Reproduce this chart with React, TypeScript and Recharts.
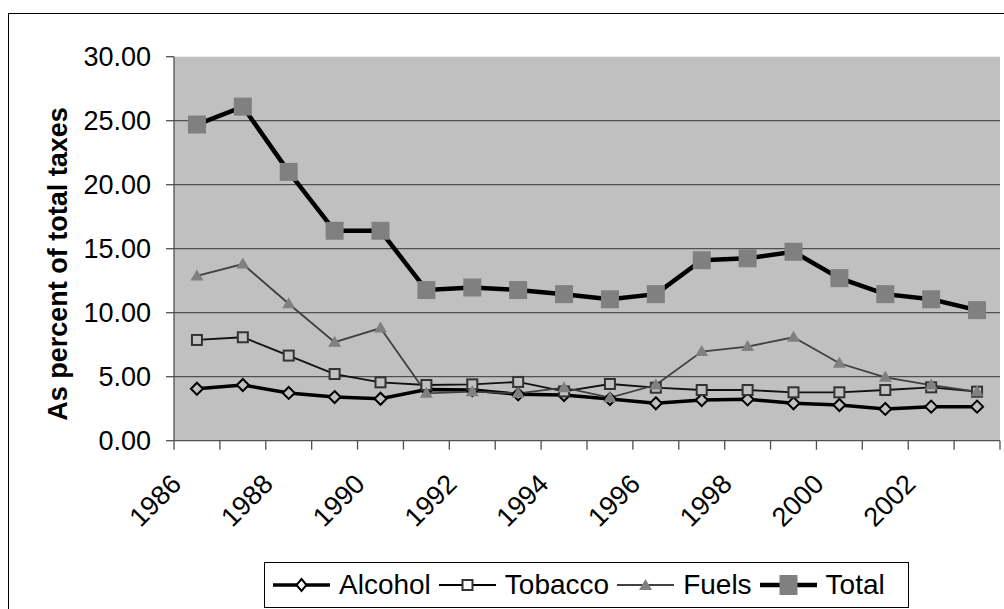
import { LineChart, Line, XAxis, YAxis, CartesianGrid, Legend, Label } from "recharts";

const years = [
  "1986", "1987", "1988", "1989", "1990", "1991", "1992", "1993", "1994",
  "1995", "1996", "1997", "1998", "1999", "2000", "2001", "2002", "2003",
];
const alcohol = [4.06, 4.35, 3.73, 3.41, 3.28, 4.0, 3.96, 3.62, 3.57, 3.26, 2.92, 3.18, 3.23, 2.92, 2.79, 2.48, 2.66, 2.66];
const tobacco = [7.87, 8.08, 6.65, 5.21, 4.56, 4.35, 4.4, 4.59, 3.85, 4.43, 4.14, 3.96, 3.96, 3.78, 3.78, 3.96, 4.17, 3.83];
const fuels = [12.87, 13.8, 10.7, 7.7, 8.8, 3.7, 3.83, 3.7, 4.14, 3.36, 4.35, 6.96, 7.35, 8.08, 6.05, 4.95, 4.35, 3.83];
const total = [24.7, 26.1, 21.0, 16.4, 16.4, 11.77, 11.97, 11.77, 11.45, 11.05, 11.45, 14.1, 14.25, 14.76, 12.7, 11.45, 11.05, 10.2];
const yTicks = [0, 5, 10, 15, 20, 25, 30];

const data = years.map((year, i) => ({
  year,
  alcohol: alcohol[i],
  tobacco: tobacco[i],
  fuels: fuels[i],
  total: total[i],
}));

const FONT = '"Liberation Sans", Arial, Helvetica, sans-serif';
const CHART_W = 995;
const CHART_H = 600;
const MARGIN = { top: 42.7, right: 4, bottom: 0, left: 0 };
const Y_W = 165;
const BAND = (CHART_W - MARGIN.left - MARGIN.right - Y_W) / years.length;
const AXIS = "#505050";
const BG = "#c0c0c0";

const diamondDot = (props: any) => {
  const { cx, cy, index } = props;
  if (cx == null || cy == null) return <g key={`a${index}`} />;
  return (
    <path
      key={`a${index}`}
      d={`M${cx},${cy - 6}L${cx + 6},${cy}L${cx},${cy + 6}L${cx - 6},${cy}Z`}
      fill={BG}
      stroke="#000"
      strokeWidth={2}
    />
  );
};

const openSquareDot = (props: any) => {
  const { cx, cy, index } = props;
  if (cx == null || cy == null) return <g key={`t${index}`} />;
  return <rect key={`t${index}`} x={cx - 5} y={cy - 5} width={10} height={10} fill={BG} stroke="#333" strokeWidth={2} />;
};

const triangleDot = (props: any) => {
  const { cx, cy, index } = props;
  if (cx == null || cy == null) return <g key={`f${index}`} />;
  return <path key={`f${index}`} d={`M${cx},${cy - 6.5}L${cx + 6.5},${cy + 4.5}L${cx - 6.5},${cy + 4.5}Z`} fill="#808080" />;
};

const bigSquareDot = (props: any) => {
  const { cx, cy, index } = props;
  if (cx == null || cy == null) return <g key={`s${index}`} />;
  return <rect key={`s${index}`} x={cx - 9} y={cy - 9} width={18} height={18} fill="#808080" />;
};

const XTick = (props: any) => {
  const { x, y, payload, index } = props;
  const tx = x - 14;
  const ty = y + 45;
  return (
    <g>
      <line x1={x - BAND / 2} x2={x - BAND / 2} y1={y} y2={y + 9} stroke={AXIS} strokeWidth={1.3} />
      {index === years.length - 1 && (
        <line x1={x + BAND / 2} x2={x + BAND / 2} y1={y} y2={y + 9} stroke={AXIS} strokeWidth={1.3} />
      )}
      {index % 2 === 0 && (
        <text x={tx} y={ty} transform={`rotate(-45 ${tx} ${ty})`} textAnchor="end" fontSize={27} fontFamily={FONT} fill="#000">
          {payload.value}
        </text>
      )}
    </g>
  );
};

const YTitle = () => (
  <text
    transform="translate(58,250) rotate(-90)"
    textAnchor="middle"
    fontSize={27}
    fontWeight="bold"
    fontFamily={FONT}
    fill="#000"
  >
    As percent of total taxes
  </text>
);

const legendItems = [
  { label: "Alcohol", kind: "diamond" },
  { label: "Tobacco", kind: "square" },
  { label: "Fuels", kind: "triangle" },
  { label: "Total", kind: "big" },
];

const LegendIcon = ({ kind }: { kind: string }) => {
  const w = 57;
  const c = w / 2;
  const m = 12;
  return (
    <svg width={w} height={24} style={{ display: "block" }}>
      {kind === "diamond" && (
        <>
          <line x1={0} x2={w} y1={m} y2={m} stroke="#000" strokeWidth={3.5} />
          <path d={`M${c},${m - 6}L${c + 5},${m}L${c},${m + 6}L${c - 5},${m}Z`} fill="#fff" stroke="#000" strokeWidth={2} />
        </>
      )}
      {kind === "square" && (
        <>
          <line x1={0} x2={w} y1={m} y2={m} stroke="#000" strokeWidth={1.8} />
          <rect x={c - 5} y={m - 5} width={10} height={10} fill="#fff" stroke="#333" strokeWidth={2} />
        </>
      )}
      {kind === "triangle" && (
        <>
          <line x1={0} x2={w} y1={m} y2={m} stroke="#404040" strokeWidth={1.8} />
          <path d={`M${c},${m - 6}L${c + 6.5},${m + 5}L${c - 6.5},${m + 5}Z`} fill="#808080" />
        </>
      )}
      {kind === "big" && (
        <>
          <line x1={0} x2={w} y1={m} y2={m} stroke="#000" strokeWidth={4.5} />
          <rect x={c - 9} y={m - 10} width={18} height={20} fill="#808080" />
        </>
      )}
    </svg>
  );
};

const LegendBox = () => (
  <div
    style={{
      boxSizing: "border-box",
      width: 645,
      height: 46,
      border: "1px solid #000",
      background: "#fff",
      display: "flex",
      alignItems: "center",
      paddingLeft: 8,
      fontFamily: FONT,
      fontSize: 28,
      color: "#000",
      whiteSpace: "nowrap",
    }}
  >
    {legendItems.map((item) => (
      <div key={item.label} style={{ display: "flex", alignItems: "center", marginRight: 8 }}>
        <LegendIcon kind={item.kind} />
        <span style={{ marginLeft: 9 }}>{item.label}</span>
      </div>
    ))}
  </div>
);

const App = () => {
  return (
    <>
      <style>{`body{margin:0;overflow:hidden;background:#fff}`}</style>
      <div
        style={{
          position: "absolute",
          left: 8,
          top: 13,
          width: 1000,
          height: 606,
          border: "1px solid #000",
          boxSizing: "border-box",
          background: "#fff",
        }}
      >
        <LineChart width={CHART_W} height={CHART_H} data={data} margin={MARGIN}>
          <CartesianGrid
            vertical={false}
            horizontalValues={[5, 10, 15, 20, 25]}
            fill={BG}
            fillOpacity={1}
            stroke={AXIS}
            strokeWidth={1.3}
          />
          <XAxis
            dataKey="year"
            scale="band"
            interval={0}
            height={CHART_H - 42.7 - 384}
            tickLine={false}
            tickSize={0}
            tickMargin={0}
            tick={<XTick />}
            axisLine={{ stroke: AXIS, strokeWidth: 1.3 }}
          />
          <YAxis
            width={Y_W}
            domain={[0, 30]}
            ticks={yTicks}
            interval={0}
            tickFormatter={(v: number) => v.toFixed(2)}
            tick={{ fill: "#000", fontSize: 27, fontFamily: FONT }}
            tickSize={8}
            tickMargin={15}
            tickLine={{ stroke: AXIS, strokeWidth: 1.3 }}
            axisLine={{ stroke: AXIS, strokeWidth: 1.3 }}
          >
            <Label content={<YTitle />} />
          </YAxis>
          <Legend
            layout="horizontal"
            verticalAlign="middle"
            align="center"
            content={<LegendBox />}
            wrapperStyle={{ left: 255, top: 548, width: 645, height: 46 }}
          />
          <Line type="linear" dataKey="alcohol" name="Alcohol" stroke="#000" strokeWidth={3.5} dot={diamondDot} activeDot={false} isAnimationActive={false} />
          <Line type="linear" dataKey="tobacco" name="Tobacco" stroke="#111" strokeWidth={1.8} dot={openSquareDot} activeDot={false} isAnimationActive={false} />
          <Line type="linear" dataKey="fuels" name="Fuels" stroke="#404040" strokeWidth={1.8} dot={triangleDot} activeDot={false} isAnimationActive={false} />
          <Line type="linear" dataKey="total" name="Total" stroke="#000" strokeWidth={4.5} dot={bigSquareDot} activeDot={false} isAnimationActive={false} />
        </LineChart>
      </div>
    </>
  );
};

export default App;
